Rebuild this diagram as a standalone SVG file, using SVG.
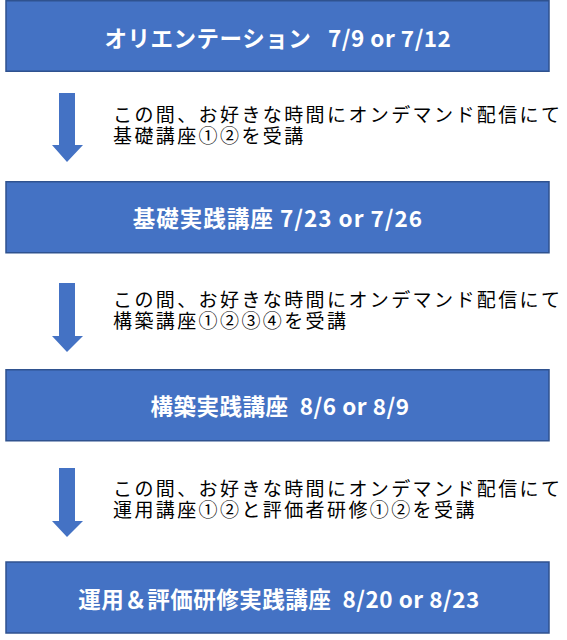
<svg xmlns="http://www.w3.org/2000/svg" width="567" height="640" viewBox="0 0 567 640">
<defs>
<style>
.box{fill:#4472C4;stroke:#2F528F;stroke-width:1.5}
.bt{font-family:"Noto Sans CJK JP","Noto Sans",sans-serif;font-size:22.5px;font-weight:bold;fill:#FFFFFF;text-anchor:middle;white-space:pre;letter-spacing:0.5px}
.nt{font-family:"Liberation Sans","Noto Sans CJK JP",sans-serif;font-size:19px;letter-spacing:2.4px;fill:#000000}
.arr{fill:#4472C4}
</style>
</defs>
<rect width="567" height="640" fill="#FFFFFF"/>
<g id="node1">
<rect class="box" x="6" y="0.75" width="543" height="70.5"/>
<text class="bt" x="278" y="47" xml:space="preserve">オリエンテーション   7/9 or 7/12</text>
</g>
<g id="node2">
<rect class="box" x="6" y="181.75" width="543" height="71"/>
<text class="bt" x="278" y="227" style="letter-spacing:1px">基礎実践講座 7/23 or 7/26</text>
</g>
<g id="node3">
<rect class="box" x="6" y="369.75" width="543" height="71"/>
<text class="bt" x="280" y="415" xml:space="preserve">構築実践講座  8/6 or 8/9</text>
</g>
<g id="node4">
<rect class="box" x="6" y="562" width="543" height="71"/>
<text class="bt" x="279" y="608" xml:space="preserve">運用＆評価研修実践講座  8/20 or 8/23</text>
</g>
<g id="connectors">
<path class="arr" d="M59,93 H75 V145 H83 L67,162 L52,145 H59 Z"/>
<path class="arr" d="M59,283 H75 V336 H83 L67,352 L52,336 H59 Z"/>
<path class="arr" d="M59,468 H75 V521 H83 L67,537 L52,521 H59 Z"/>
</g>
<g id="label1">
<text class="nt"><tspan x="113" y="121.5">この間、お好きな時間にオンデマンド配信にて</tspan><tspan x="113" y="143">基礎講座①②を受講</tspan></text>
</g>
<g id="label2">
<text class="nt"><tspan x="113" y="306.5">この間、お好きな時間にオンデマンド配信にて</tspan><tspan x="113" y="328">構築講座①②③④を受講</tspan></text>
</g>
<g id="label3">
<text class="nt"><tspan x="113" y="495.5">この間、お好きな時間にオンデマンド配信にて</tspan><tspan x="113" y="517">運用講座①②と評価者研修①②を受講</tspan></text>
</g>
</svg>
